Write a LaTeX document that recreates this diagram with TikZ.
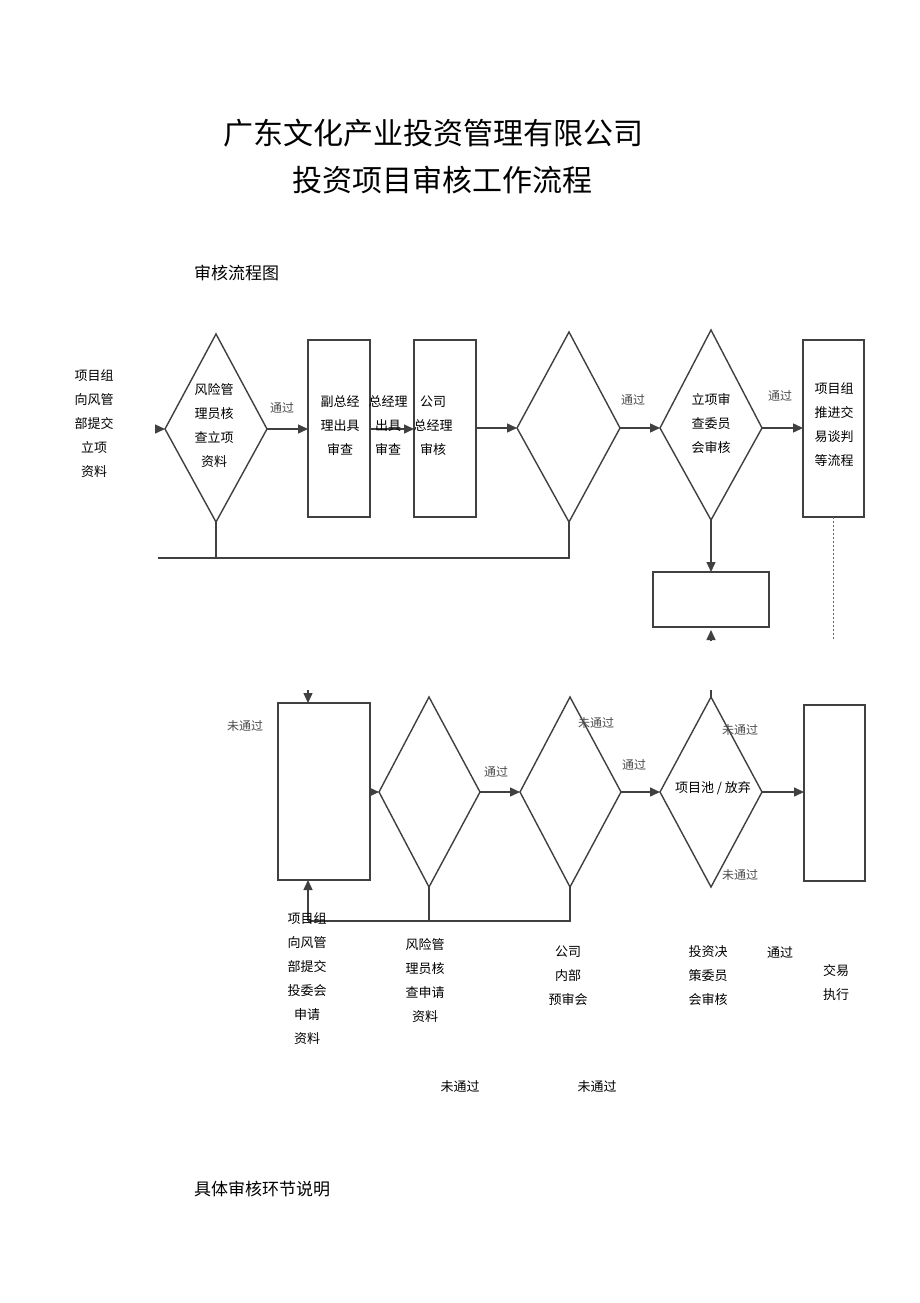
\documentclass[tikz,border=0pt]{standalone}
\usepackage{fontspec}
\setmainfont{Noto Sans CJK SC}
\usetikzlibrary{arrows.meta}
\begin{document}
\begin{tikzpicture}[x=1pt,y=-1pt,
  ln/.style={draw=black!75, line width=1.4pt},
  arr/.style={ln,-{Triangle[length=10pt,width=9pt]}},
  txt/.style={font=\fontsize{13}{24}\selectfont, align=center, inner sep=0},
  lbl/.style={font=\fontsize{12}{12}\selectfont, text=black!70, inner sep=0},
  ttl/.style={font=\fontsize{30}{30}\selectfont, inner sep=0},
  hd/.style={font=\fontsize{17}{17}\selectfont, inner sep=0, anchor=west}]
\useasboundingbox[fill=white] (0,0) rectangle (920,1303);
\node[ttl] (t1) at (433,133) {广东文化产业投资管理有限公司};
\node[ttl] (t2) at (442,180) {投资项目审核工作流程};
\node[hd] (h1) at (194,273) {审核流程图};
\node[hd] (h2) at (194,1189) {具体审核环节说明};
% top row
\node[txt] (lt) at (94,424) {项目组\\向风管\\部提交\\立项\\资料};
\draw[ln] (216,334) coordinate(d1t) -- (267,429) coordinate(d1r) -- (216,522) coordinate(d1b) -- (165,429) coordinate(d1l) -- cycle;
\node[txt] (d1x) at (214,426) {风险管\\理员核\\查立项\\资料};
\coordinate (s1) at (158,429);
\draw[arr] (s1) -- (d1l);
\node[lbl] (p1) at (282,408) {通过};
\draw[ln] (308,340) rectangle (370,517); \coordinate (r1l) at (308,429); \coordinate (r1r) at (370,429);
\draw[ln] (414,340) rectangle (476,517); \coordinate (r2l) at (414,429); \coordinate (r2r) at (476,429);
\draw[arr] (d1r) -- (r1l);
\draw[arr] (r1r) -- (r2l);
\node[txt] (ra) at (340,426) {副总经\\理出具\\审查};
\node[txt] (rb) at (388,426) {总经理\\出具\\审查};
\node[txt] (rc) at (433,426) {公司\\总经理\\审核};
\draw[ln] (569,332) coordinate(d3t) -- (620,428) coordinate(d3r) -- (569,522) coordinate(d3b) -- (517,428) coordinate(d3l) -- cycle;
\coordinate (r2r') at (476,428);
\draw[arr] (r2r') -- (d3l);
\node[lbl] (p2) at (633,400) {通过};
\draw[ln] (711,330) coordinate(d4t) -- (762,428) coordinate(d4r) -- (711,520) coordinate(d4b) -- (660,428) coordinate(d4l) -- cycle;
\draw[arr] (d3r) -- (d4l);
\node[txt] (d4x) at (711,424) {立项审\\查委员\\会审核};
\node[lbl] (p3) at (780,396) {通过};
\draw[ln] (803,340) rectangle (864,517); \coordinate (r3l) at (803,428);
\draw[arr] (d4r) -- (r3l);
\node[txt] (r3x) at (834,425) {项目组\\推进交\\易谈判\\等流程};
\draw[black!60, line width=1pt, dash pattern=on 2pt off 2pt] (833,517) coordinate(r3b) -- (833,640) coordinate(dd);
\coordinate (s2) at (158,558);
\draw[ln] (d1b) -- (216,558);
\draw[ln] (s2) -- (569,558) -- (d3b);
\draw[ln] (653,572) rectangle (769,627); \coordinate (r4t) at (711,572);
\draw[arr] (d4b) -- (r4t);
\coordinate (u1) at (711,640); \coordinate (u2) at (711,630);
\draw[arr] (u1) -- (u2);
% bottom row
\draw[ln] (278,703) rectangle (370,880); \coordinate (r5t) at (308,703); \coordinate (r5b) at (308,880); \coordinate (r5r) at (370,792);
\coordinate (a0) at (308,690);
\draw[arr] (a0) -- (r5t);
\node[lbl] (n1) at (245,726) {未通过};
\draw[ln] (429,697) -- (480,792) coordinate(d6r) -- (429,887) coordinate(d6b) -- (379,792) coordinate(d6l) -- cycle;
\draw[arr] (r5r) -- (d6l);
\node[lbl] (p4) at (496,772) {通过};
\draw[ln] (570,697) -- (621,792) coordinate(d7r) -- (570,887) coordinate(d7b) -- (520,792) coordinate(d7l) -- cycle;
\draw[arr] (d6r) -- (d7l);
\node[lbl] (n2) at (596,723) {未通过};
\node[lbl] (p5) at (634,765) {通过};
\draw[ln] (711,697) coordinate(d8t) -- (762,792) coordinate(d8r) -- (711,887) -- (660,792) coordinate(d8l) -- cycle;
\draw[ln] (711,690) -- (d8t);
\draw[arr] (d7r) -- (d8l);
\node[txt] (d8x) at (713,788) {项目池 / 放弃};
\node[lbl] (n3) at (740,730) {未通过};
\node[lbl] (n4) at (740,875) {未通过};
\draw[ln] (804,705) rectangle (865,881); \coordinate (r9l) at (804,792);
\draw[arr] (d8r) -- (r9l);
\coordinate (fb) at (308,921);
\draw[arr] (fb) -- (r5b);
\draw[ln] (fb) -- (570,921) -- (d7b);
\draw[ln] (d6b) -- (429,921);
\node[txt, anchor=north] (b1) at (307,912) {项目组\\向风管\\部提交\\投委会\\申请\\资料};
\node[txt, anchor=north] (b2) at (425,938) {风险管\\理员核\\查申请\\资料};
\node[txt, anchor=north] (b3) at (568,946) {公司\\内部\\预审会};
\node[txt, anchor=north] (b4) at (708,945) {投资决\\策委员\\会审核};
\node[txt] (b5) at (780,953) {通过};
\node[txt, anchor=north] (b6) at (836,964) {交易\\执行};
\node[txt] (n5) at (460,1087) {未通过};
\node[txt] (n6) at (597,1087) {未通过};
\end{tikzpicture}
\end{document}
